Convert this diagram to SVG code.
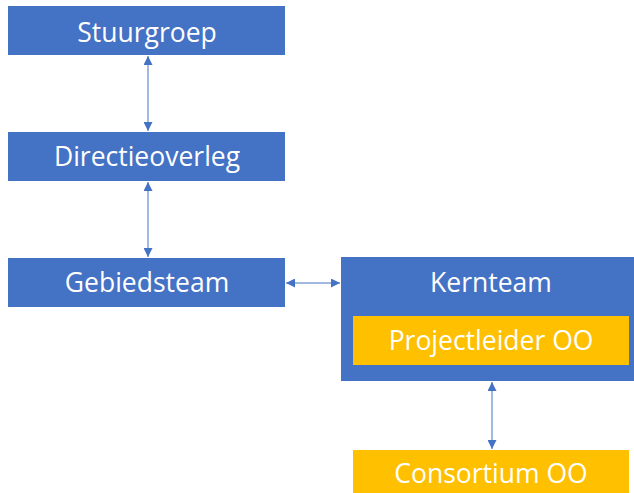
<svg xmlns="http://www.w3.org/2000/svg" width="634" height="493" viewBox="0 0 634 493">
<defs>
<marker id="ah" viewBox="0 0 10 10" refX="10" refY="5" markerWidth="9" markerHeight="9" markerUnits="userSpaceOnUse" orient="auto-start-reverse">
<path d="M0,0 L10,5 L0,10 z" fill="#4472C4"/>
</marker>
<style>
.blue{fill:#4472C4}
.yel{fill:#FFC000}
.t{font-family:"Open Sans","Noto Sans",sans-serif;font-size:26.5px;fill:#fff;text-anchor:middle}
.c{stroke:#4472C4;stroke-width:1;fill:none;marker-start:url(#ah);marker-end:url(#ah)}
</style>
</defs>
<rect width="634" height="493" fill="#fff"/>
<g id="stuurgroep"><rect class="blue" x="8" y="6" width="277" height="49"/><text class="t" x="147" y="42">Stuurgroep</text></g>
<g id="directieoverleg"><rect class="blue" x="8" y="132" width="277" height="49"/><text class="t" x="147" y="166">Directieoverleg</text></g>
<g id="gebiedsteam"><rect class="blue" x="8" y="258" width="277" height="49"/><text class="t" x="147" y="292">Gebiedsteam</text></g>
<g id="kernteam"><rect class="blue" x="341" y="257" width="293" height="124"/><text class="t" x="491" y="292">Kernteam</text></g>
<g id="projectleider"><rect class="yel" x="353" y="316" width="276" height="49"/><text class="t" x="491" y="350">Projectleider OO</text></g>
<g id="consortium"><rect class="yel" x="353" y="450" width="276" height="43"/><text class="t" x="491" y="483">Consortium OO</text></g>
<g id="connectors">
<line class="c" x1="148" y1="56" x2="148" y2="131"/>
<line class="c" x1="148" y1="182" x2="148" y2="257"/>
<line class="c" x1="286" y1="283" x2="340" y2="283"/>
<line class="c" x1="492" y1="382" x2="492" y2="449"/>
</g>
</svg>
